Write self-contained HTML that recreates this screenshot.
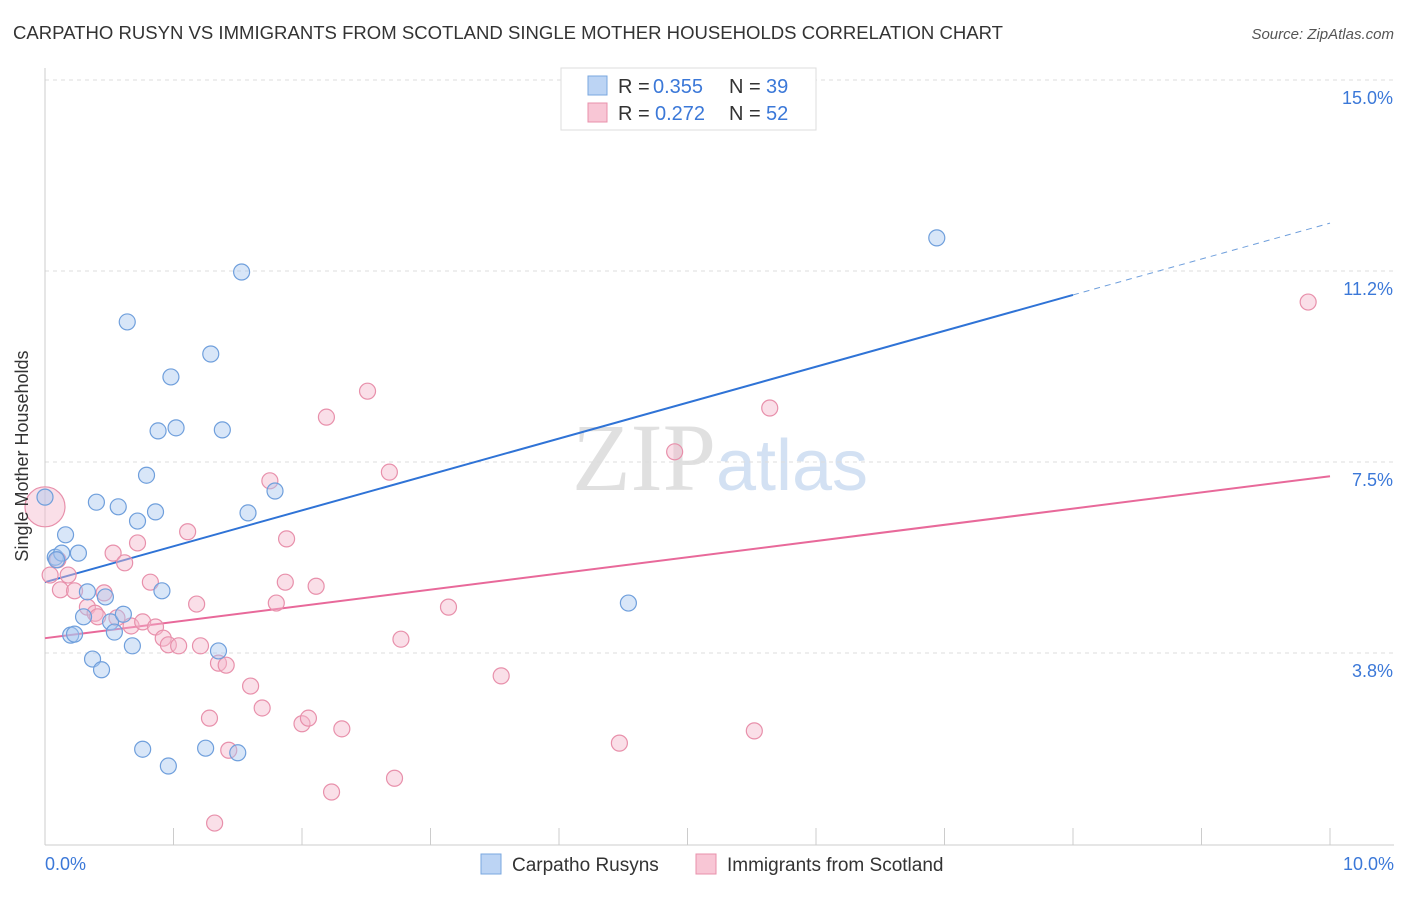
<!DOCTYPE html>
<html><head><meta charset="utf-8"><style>
body{margin:0;background:#fff;font-family:"Liberation Sans",sans-serif;}
svg text{font-family:"Liberation Sans",sans-serif;}
</style></head><body>
<svg id="chart" width="1406" height="892" xmlns="http://www.w3.org/2000/svg">
<text x="13" y="39" font-size="18" fill="#333" textLength="990" lengthAdjust="spacingAndGlyphs">CARPATHO RUSYN VS IMMIGRANTS FROM SCOTLAND SINGLE MOTHER HOUSEHOLDS CORRELATION CHART</text>
<text x="1394" y="39" font-size="15" fill="#555" text-anchor="end" font-style="italic">Source: ZipAtlas.com</text>
<text x="720" y="490" font-size="96" text-anchor="middle"><tspan fill="#e0e0e0" font-family="Liberation Serif">ZIP</tspan><tspan fill="#d3e1f3" font-size="72">atlas</tspan></text>
<g id="grid"></g>
<g id="axes"></g>
<g id="trends"></g>
<g id="points"></g>
<text transform="translate(34,456) rotate(-90)" font-size="18" fill="#333" text-anchor="middle" dy="-6">Single Mother Households</text>
<g>
<rect x="561" y="68" width="255" height="62" fill="#fff" stroke="#ddd"/>
<rect x="588" y="76" width="19" height="19" fill="#bcd4f4" stroke="#7aa7df"/>
<rect x="588" y="103" width="19" height="19" fill="#f8c6d5" stroke="#e890ab"/>
<text x="618" y="93" font-size="20" fill="#333">R =</text>
<text x="653" y="93" font-size="20" fill="#3b78d8">0.355</text>
<text x="729" y="93" font-size="20" fill="#333">N =</text>
<text x="766" y="93" font-size="20" fill="#3b78d8">39</text>
<text x="618" y="120" font-size="20" fill="#333">R =</text>
<text x="655" y="120" font-size="20" fill="#3b78d8">0.272</text>
<text x="729" y="120" font-size="20" fill="#333">N =</text>
<text x="766" y="120" font-size="20" fill="#3b78d8">52</text>
</g>
<g>
<rect x="481" y="854" width="20" height="20" fill="#bcd4f4" stroke="#7aa7df"/>
<text x="512" y="871" font-size="19" fill="#333">Carpatho Rusyns</text>
<rect x="696" y="854" width="20" height="20" fill="#f8c6d5" stroke="#e890ab"/>
<text x="727" y="871" font-size="19" fill="#333">Immigrants from Scotland</text>
</g>
</svg>
<script>
const xTicks=[0,1,2,3,4,5,6,7,8,9,10];
const yTicks=[3.75,7.5,11.25,15];
const yTickLabels=["3.8%","7.5%","11.2%","15.0%"];
const xTickLabels=["0.0%","10.0%"];
const blueX=[0.00,0.08,0.13,0.16,0.26,0.40,0.33,0.30,0.20,0.23,0.37,0.44,0.47,0.51,0.54,0.57,0.61,0.68,0.72,0.79,0.86,0.88,0.91,0.98,1.02,0.64,1.29,1.38,1.53,1.58,1.79,1.35,0.76,0.96,1.25,1.50,4.54,6.94,0.09];
const blueY=[6.81,5.63,5.71,6.07,5.71,6.71,4.95,4.46,4.10,4.12,3.63,3.42,4.85,4.36,4.16,6.62,4.51,3.89,6.34,7.24,6.52,8.11,4.97,9.17,8.17,10.25,9.62,8.13,11.23,6.50,6.93,3.79,1.86,1.53,1.88,1.79,4.73,11.90,5.58];
const pinkX=[0.00,0.04,0.18,0.12,0.23,0.33,0.39,0.41,0.46,0.53,0.56,0.62,0.67,0.72,0.76,0.82,0.86,0.92,0.96,1.04,1.11,1.18,1.21,1.28,1.35,1.41,1.32,1.43,1.60,1.69,1.75,1.80,1.87,1.88,2.00,2.05,2.11,2.19,2.23,2.31,2.51,2.68,2.72,2.77,3.14,3.55,4.47,4.90,5.52,5.64,9.83,0.10];
const pinkY=[6.62,5.28,5.28,4.99,4.97,4.65,4.53,4.46,4.93,5.71,4.44,5.52,4.28,5.91,4.36,5.14,4.26,4.04,3.91,3.89,6.13,4.71,3.89,2.47,3.55,3.51,0.41,1.84,3.10,2.67,7.13,4.73,5.14,5.99,2.36,2.47,5.06,8.38,1.02,2.26,8.89,7.30,1.29,4.02,4.65,3.30,1.98,7.70,2.22,8.56,10.64,5.58];
const blueTrend=[5.14,0.705];
const pinkTrend=[4.04,0.318];
const blueSolidEnd=8.0;
const NS="http://www.w3.org/2000/svg";
const X=v=>45+v*128.5;
const Y=v=>80+(15-v)*50.93;
function mk(tag,attrs,parent){const e=document.createElementNS(NS,tag);for(const k in attrs)e.setAttribute(k,attrs[k]);parent.appendChild(e);return e;}
const grid=document.getElementById('grid'),axes=document.getElementById('axes'),trends=document.getElementById('trends'),pts=document.getElementById('points');
yTicks.forEach((t,i)=>{
 const l=mk('line',{x1:45,x2:1394,y1:Y(t),y2:Y(t),stroke:'#ddd','stroke-dasharray':'4,4'},grid);
 
 
 const tx=mk('text',{x:1393,y:Y(t)+24,'font-size':18,fill:'#3b78d8','text-anchor':'end'},grid);
 tx.textContent=yTickLabels[i];
 
 
});
const ax=mk('line',{x1:45,x2:45,y1:68,y2:845,stroke:'#ccc'},axes);


const bx=mk('line',{x1:45,x2:1394,y1:845,y2:845,stroke:'#ccc'},axes);


xTicks.forEach(t=>{
 const l=mk('line',{x1:X(t),x2:X(t),y1:828,y2:845,stroke:'#ccc'},axes);
 
 
});
const xl0=mk('text',{x:45,y:870,'font-size':18,fill:'#3b78d8'},axes);
xl0.textContent=xTickLabels[0];


const xl1=mk('text',{x:1394,y:870,'font-size':18,fill:'#3b78d8','text-anchor':'end'},axes);
xl1.textContent=xTickLabels[1];


function pt(x,y,r,fill,stroke,name){
 const c=mk('circle',{cx:X(x),cy:Y(y),r:r,fill:fill,'fill-opacity':0.45,stroke:stroke,'stroke-width':1.2},pts);
 
 
}
pinkX.forEach((x,i)=>pt(x,pinkY[i],i===0?20:8,'#f5b8cb','#e890ab','point-scotland'));
blueX.forEach((x,i)=>pt(x,blueY[i],8,'#a9c8f0','#6f9fdc','point-carpatho-rusyn'));
const b1=mk('line',{x1:X(0),y1:Y(blueTrend[0]),x2:X(blueSolidEnd),y2:Y(blueTrend[0]+blueTrend[1]*blueSolidEnd),stroke:'#2f73d6','stroke-width':2},trends);


const b2=mk('line',{x1:X(blueSolidEnd),y1:Y(blueTrend[0]+blueTrend[1]*blueSolidEnd),x2:X(10),y2:Y(blueTrend[0]+blueTrend[1]*10),stroke:'#6f9fdc','stroke-width':1,'stroke-dasharray':'6,5'},trends);


const p1=mk('line',{x1:X(0),y1:Y(pinkTrend[0]),x2:X(10),y2:Y(pinkTrend[0]+pinkTrend[1]*10),stroke:'#e8699a','stroke-width':2},trends);


</script>
</body></html>
